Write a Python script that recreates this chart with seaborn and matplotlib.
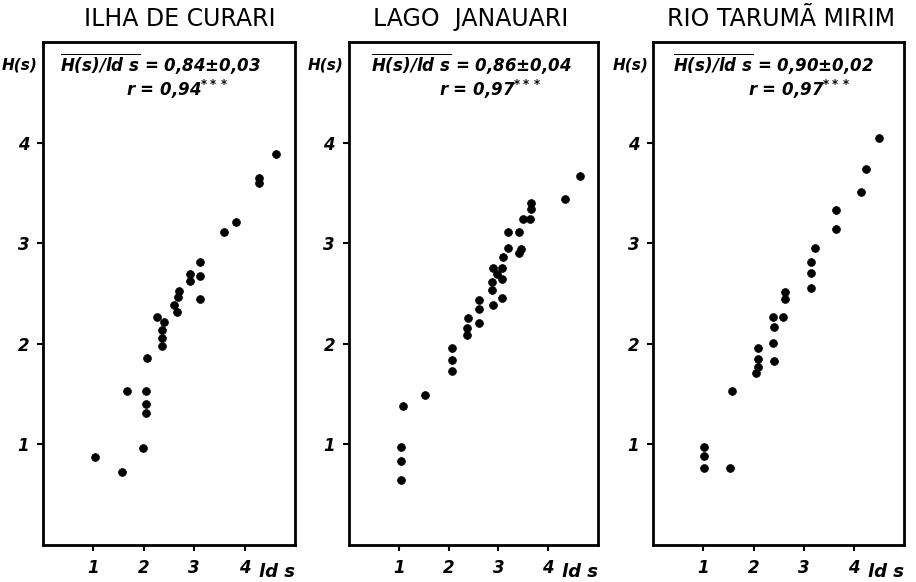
import matplotlib
matplotlib.use("Agg")
import matplotlib.pyplot as plt
import seaborn as sns
import pandas as pd

# ── Data ──────────────────────────────────────────────────────────────────────
titles = ["ILHA DE CURARI", "LAGO  JANAUARI", "RIO TARUMÃ MIRIM"]
means = ["0,84±0,03", "0,86±0,04", "0,90±0,02"]
r_values = ["0,94", "0,97", "0,97"]

curari_x = [1.03, 1.57, 1.66, 1.99, 2.04, 2.04, 2.05, 2.06, 2.37, 2.37, 2.37,
            2.26, 2.41, 2.59, 2.66, 2.69, 2.67, 2.91, 2.91, 3.12, 3.12, 3.12,
            3.59, 3.83, 4.28, 4.28, 4.63]
curari_y = [0.87, 0.73, 1.53, 0.96, 1.40, 1.31, 1.53, 1.86, 2.14, 2.06, 1.98,
            2.27, 2.22, 2.39, 2.32, 2.53, 2.47, 2.69, 2.62, 2.81, 2.67, 2.45,
            3.11, 3.21, 3.65, 3.60, 3.89]

janauari_x = [1.08, 1.05, 1.04, 1.04, 1.53, 2.07, 2.07, 2.07, 2.38, 2.37, 2.37,
              2.61, 2.61, 2.61, 2.88, 3.08, 2.87, 2.87, 2.89, 3.07, 2.98, 3.08,
              3.10, 3.20, 3.45, 3.41, 3.20, 3.41, 3.49, 3.63, 3.66, 3.66, 4.33,
              4.63]
janauari_y = [1.38, 0.97, 0.84, 0.65, 1.49, 1.96, 1.84, 1.73, 2.26, 2.16, 2.09,
              2.44, 2.35, 2.21, 2.39, 2.46, 2.61, 2.54, 2.75, 2.75, 2.69, 2.64,
              2.86, 2.95, 2.94, 2.90, 3.11, 3.11, 3.24, 3.24, 3.40, 3.34, 3.44,
              3.67]

taruma_x = [1.01, 1.01, 1.01, 1.54, 1.57, 2.05, 2.09, 2.09, 2.09, 2.40, 2.38,
            2.41, 2.39, 2.59, 2.63, 2.63, 3.15, 3.15, 3.15, 3.22, 3.65, 3.65,
            4.15, 4.24, 4.50]
taruma_y = [0.97, 0.88, 0.77, 0.77, 1.53, 1.71, 1.77, 1.85, 1.96, 1.83, 2.01,
            2.17, 2.27, 2.27, 2.45, 2.52, 2.56, 2.70, 2.81, 2.95, 3.14, 3.33,
            3.51, 3.74, 4.05]

xs = [curari_x, janauari_x, taruma_x]
ys = [curari_y, janauari_y, taruma_y]

# ── Style ─────────────────────────────────────────────────────────────────────
sns.set_style("ticks")
plt.rcParams["font.family"] = ["DejaVu Sans"]
plt.rcParams["text.color"] = "black"
plt.rcParams["xtick.color"] = "black"
plt.rcParams["ytick.color"] = "black"
plt.rcParams["mathtext.fontset"] = "custom"
plt.rcParams["mathtext.rm"] = "DejaVu Sans:italic:bold"
plt.rcParams["mathtext.it"] = "DejaVu Sans:italic:bold"

fig = plt.figure(figsize=(9.16, 5.82), dpi=100)

# panel geometry in figure fractions
lefts = [0.047, 0.381, 0.713]
widths = [0.275, 0.272, 0.274]
ann_x = [0.067, 0.09, 0.078]
r_x = [0.33, 0.36, 0.377]
title_x = [0.196, 0.514, 0.853]

for i in range(3):
    ax = fig.add_axes([lefts[i], 0.0636, widths[i], 0.864])
    df = pd.DataFrame({"x": xs[i], "y": ys[i]})
    sns.scatterplot(data=df, x="x", y="y", ax=ax, color="black",
                    edgecolor="black", s=32, linewidth=0.5, legend=False)

    ax.set_xlim(0, 5)
    ax.set_ylim(0, 5)
    ax.set_xticks([1, 2, 3, 4])
    ax.set_yticks([1, 2, 3, 4])
    ax.set_xticklabels(["1", "2", "3", "4"])
    ax.set_yticklabels(["1", "2", "3", "4"])
    ax.set_xlabel("")
    ax.set_ylabel("")
    for lab in ax.get_xticklabels() + ax.get_yticklabels():
        lab.set_fontstyle("italic")
        lab.set_fontweight("bold")
        lab.set_fontsize(12)
        lab.set_color("black")
    ax.tick_params(direction="out", length=4, width=1.5, pad=6, color="black")

    for side in ["left", "right", "top", "bottom"]:
        ax.spines[side].set_visible(True)
        ax.spines[side].set_linewidth(2)
        ax.spines[side].set_color("black")

    # axis names
    ax.text(-0.02, 0.955, "H(s)", transform=ax.transAxes, ha="right",
            va="center", fontsize=11, fontstyle="italic", fontweight="bold",
            color="black")
    ax.text(1.0, -0.054, "ld s", transform=ax.transAxes, ha="right",
            va="center", fontsize=13, fontstyle="italic", fontweight="bold",
            color="black")

    # regression annotation
    ax.text(ann_x[i], 0.955, r"$\overline{H(s)/ld\ s}$ = " + means[i],
            transform=ax.transAxes, ha="left", va="center", fontsize=12,
            fontstyle="italic", fontweight="bold", color="black")
    ax.text(r_x[i], 0.905, "r = " + r_values[i] + r"$^{***}$",
            transform=ax.transAxes, ha="left", va="center", fontsize=12,
            fontstyle="italic", fontweight="bold", color="black")

    fig.text(title_x[i], 0.967, titles[i], ha="center", va="center",
             fontsize=17, color="black")

fig.savefig("out.png", dpi=100)
